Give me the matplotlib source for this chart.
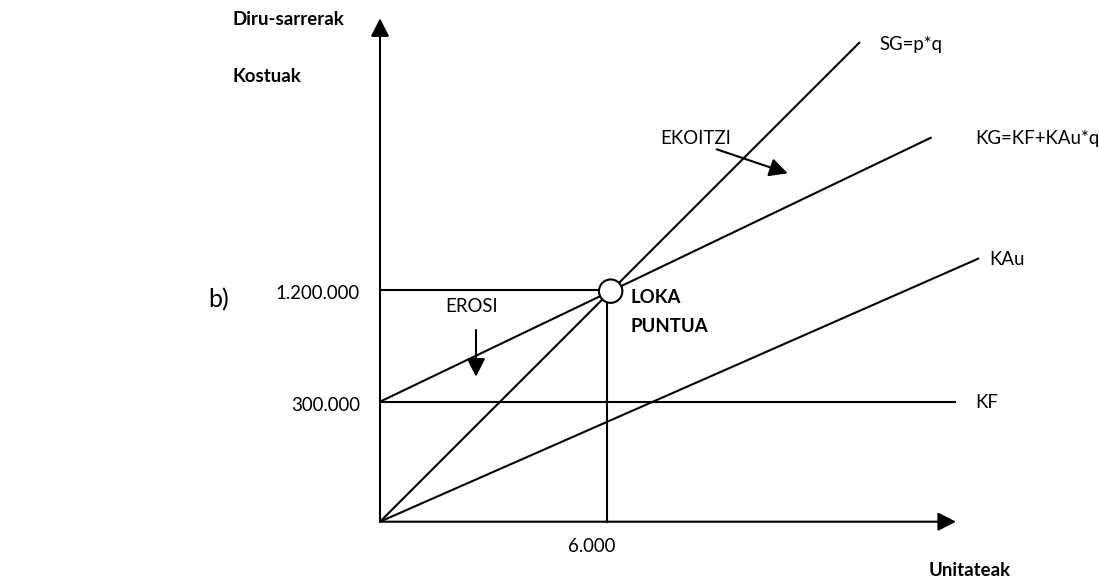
import matplotlib
matplotlib.use("Agg")
import matplotlib.pyplot as plt
from matplotlib.patches import Circle

# ---------------- data (schematic break-even diagram, not to scale) ----------------
x_tick_values = [6000]
x_tick_labels = ["6.000"]
y_tick_values = [300000, 1200000]
y_tick_labels = ["300.000", "1.200.000"]

# where those values sit on the schematic (diagram units)
x_tick_positions = [226.7]
y_tick_positions = [120.0, 231.7]

line_labels = ["SG=p*q", "KG=KF+KAu*q", "KAu", "KF"]
line_intercepts = [0.0, 120.0, 0.0, 120.0]
line_slopes = [0.9994, 0.4792, 0.4397, 0.0]
line_ends = [480.0, 551.7, 599.0, 576.0]

axis_titles = ["Diru-sarrerak", "Kostuak", "Unitateak"]
point_label = ["LOKA", "PUNTUA"]
arrow_labels = ["EKOITZI", "EROSI"]

# ---------------- figure ----------------
W, H = 1099, 580
fig = plt.figure(figsize=(W / 100, H / 100), dpi=100)
ax = fig.add_axes([0, 0, 1, 1])
OX, OY = 380.0, 521.7           # origin in image pixels
ax.set_xlim(-OX, W - OX)
ax.set_ylim(-(H - OY), OY)
ax.axis("off")

FONT = ["Lato", "DejaVu Sans"]
FS = 13.4
LW = 1.5
K = "black"

def P(px, py):
    """image pixel -> diagram units"""
    return px - OX, OY - py

def txt(px, py, s, ha="left", bold=False, size=FS):
    x, y = P(px, py)
    ax.text(x, y, s, ha=ha, va="center", fontsize=size, family=FONT,
            fontweight="bold" if bold else "normal", color=K)

arrow_style = "-|>,head_length=0.55,head_width=0.28"

def arrow(p0, p1):
    ax.annotate("", xy=P(*p1), xytext=P(*p0),
                arrowprops=dict(arrowstyle=arrow_style, mutation_scale=20,
                                color=K, lw=LW, shrinkA=0, shrinkB=0))

# axes with arrows
arrow((OX, OY), (OX, 18.3))
arrow((OX, OY), (956.0, OY))

# cost / revenue lines
label_dx = [19, 44, 10, 19]
label_dy = [3, 1, 1, 1]
for name, b, m, xe, dx, dy in zip(line_labels, line_intercepts, line_slopes,
                                  line_ends, label_dx, label_dy):
    xs = [0.0, xe]
    ys = [b + m * x for x in xs]
    ax.plot(xs, ys, color=K, lw=LW, solid_capstyle="butt")
    ax.text(xe + dx, ys[1] - dy, name, ha="left", va="center", fontsize=FS,
            family=FONT, color=K)

# break-even point (intersection of SG and KG)
m_sg, m_kg, b_kg = line_slopes[0], line_slopes[1], line_intercepts[1]
xb = b_kg / (m_sg - m_kg)
yb = m_sg * xb
xq = x_tick_positions[0]
yv = y_tick_positions[1]
ax.plot([xq, xq], [0, yb], color=K, lw=LW)
ax.plot([0, xb], [yv, yv], color=K, lw=LW)
ax.add_patch(Circle((xb, yb), 11.7, facecolor="white", edgecolor=K, lw=LW, zorder=5))

# tick labels
for v, lab, pos in zip(y_tick_values, y_tick_labels, y_tick_positions):
    ax.text(-20, pos - 3.5, lab, ha="right", va="center", fontsize=FS, family=FONT, color=K)
for v, lab, pos in zip(x_tick_values, x_tick_labels, x_tick_positions):
    ax.text(pos - 15, -25, lab, ha="center", va="center", fontsize=FS, family=FONT, color=K)

# axis titles
txt(232, 19.3, axis_titles[0], bold=True)
txt(232, 76.7, axis_titles[1], bold=True)
txt(970, 570.7, axis_titles[2], ha="center", bold=True)

# break-even label
txt(630, 297.3, point_label[0], bold=True)
txt(630, 327.0, point_label[1], bold=True)

# annotations
txt(696, 139, arrow_labels[0], ha="center")
arrow((716.7, 149.3), (787.7, 173.3))
txt(472, 307, arrow_labels[1], ha="center")
arrow((476, 330), (476, 376.7))

# panel label
txt(208, 300, "b)", size=18)

fig.savefig("out.png", dpi=100)
